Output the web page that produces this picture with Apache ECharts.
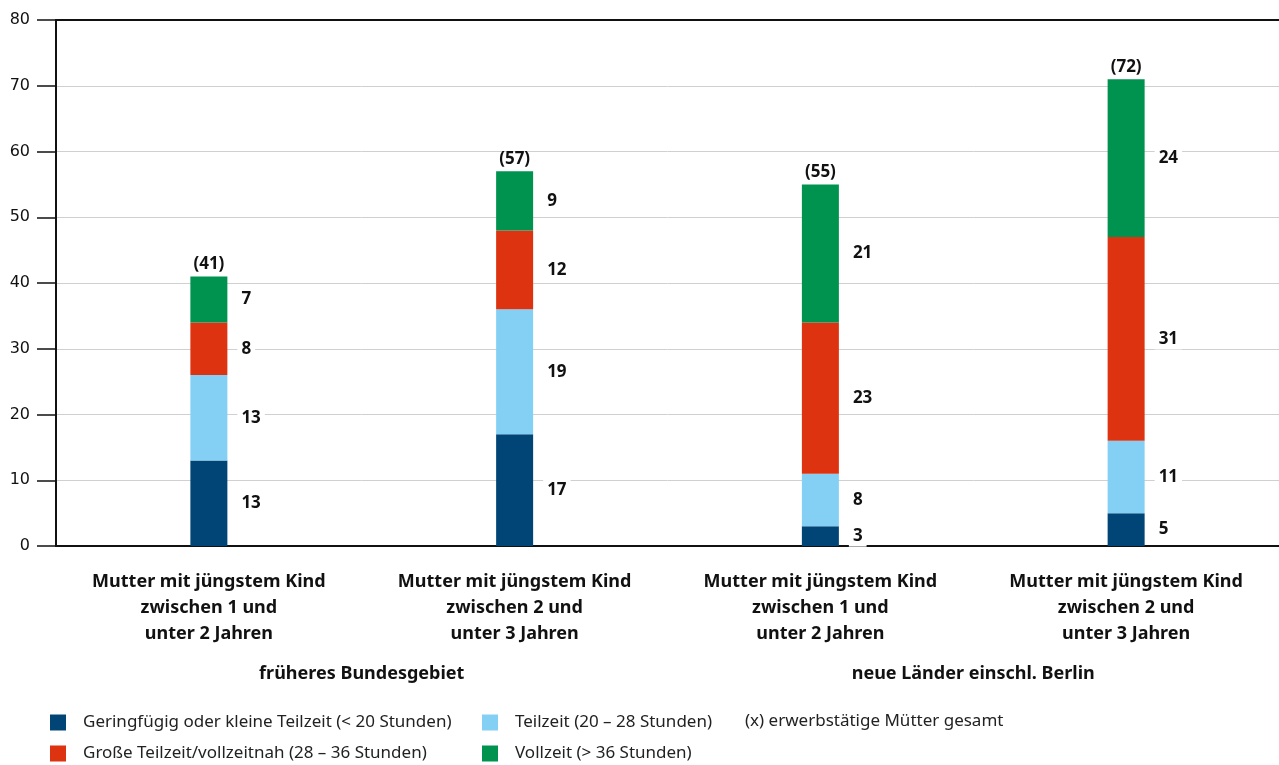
<!DOCTYPE html>
<html>
<head>
<meta charset="utf-8">
<script src="https://cdn.jsdelivr.net/npm/echarts@6/dist/echarts.min.js"></script>
<style>
  html, body { margin: 0; padding: 0; background: #fff; }
  #chart { width: 1279px; height: 765px; }
</style>
</head>
<body>
<div id="chart"></div>
<script>
// Kategorien und Gruppen
const categories = [
  'Mutter mit jüngstem Kind\nzwischen 1 und\nunter 2 Jahren',
  'Mutter mit jüngstem Kind\nzwischen 2 und\nunter 3 Jahren',
  'Mutter mit jüngstem Kind\nzwischen 1 und\nunter 2 Jahren',
  'Mutter mit jüngstem Kind\nzwischen 2 und\nunter 3 Jahren'
];
const groups = ['früheres Bundesgebiet', 'neue Länder einschl. Berlin'];

// Werte in Prozent
const geringfuegig = [13, 17, 3, 5];
const teilzeit = [13, 19, 8, 11];
const grosseTeilzeit = [8, 12, 23, 31];
const vollzeit = [7, 9, 21, 24];
const gesamtLabels = ['(41)', '(57)', '(55)', '(72)'];

const yTicks = [0, 10, 20, 30, 40, 50, 60, 70, 80];

const names = [
  'Geringfügig oder kleine Teilzeit (< 20 Stunden)',
  'Teilzeit (20 – 28 Stunden)',
  'Große Teilzeit/vollzeitnah (28 – 36 Stunden)',
  'Vollzeit (> 36 Stunden)'
];
const colors = ['#004576', '#84cff4', '#dd3311', '#00924f'];
const values = [geringfuegig, teilzeit, grosseTeilzeit, vollzeit];

const font = 'Noto Sans';

let mycharts = echarts.init(document.getElementById('chart'));

// Balken-Serien
let series = values.map((arr, i) => ({
  name: names[i],
  type: 'bar',
  stack: 'total',
  barWidth: 37,
  xAxisIndex: 0,
  data: arr,
  itemStyle: { color: colors[i] },
  label: {
    show: true,
    position: 'right',
    distance: 10,
    color: '#111',
    fontFamily: font,
    fontWeight: 'bold',
    fontSize: 17,
    backgroundColor: '#fff',
    padding: [2, 4]
  }
}));

// Gesamtsumme über den Balken
let totals = geringfuegig.map((v, i) => v + teilzeit[i] + grosseTeilzeit[i] + vollzeit[i]);
series.push({
  type: 'scatter',
  xAxisIndex: 0,
  symbolSize: 0,
  data: totals,
  silent: true,
  itemStyle: { opacity: 1 },
  label: {
    show: true,
    position: 'top',
    distance: 4,
    formatter: p => gesamtLabels[p.dataIndex],
    color: '#111',
    fontFamily: font,
    fontWeight: 'bold',
    fontSize: 17
  }
});

// Legende: jedes Element einzeln platziert (2 Spalten)
const legendPos = [[50, 714], [482, 714], [50, 745], [482, 745]];
let legends = names.map((n, i) => ({
  data: [n],
  left: legendPos[i][0],
  top: legendPos[i][1],
  padding: 0,
  itemWidth: 16,
  itemHeight: 16,
  icon: 'rect',
  textStyle: { fontFamily: font, fontSize: 17, color: '#222', padding: [0, 0, 0, 12] }
}));

mycharts.setOption({
  animation: false,
  grid: { left: 56, right: 0, top: 20, bottom: 219 },
  legend: legends,
  graphic: [{
    type: 'text',
    left: 745,
    top: 713,
    style: {
      text: '(x) erwerbstätige Mütter gesamt',
      fontFamily: font,
      fontSize: 17,
      fill: '#222'
    }
  }],
  xAxis: [
    {
      type: 'category',
      data: categories,
      position: 'bottom',
      axisLine: { lineStyle: { color: '#111', width: 2 } },
      axisTick: { show: false },
      axisLabel: {
        interval: 0,
        margin: 23,
        fontFamily: font,
        fontWeight: 'bold',
        fontSize: 18,
        lineHeight: 26,
        color: '#111'
      }
    },
    {
      type: 'category',
      data: groups,
      position: 'bottom',
      offset: 119,
      axisLine: { show: false },
      axisTick: { show: false },
      axisLabel: {
        interval: 0,
        margin: 0,
        fontFamily: font,
        fontWeight: 'bold',
        fontSize: 18,
        color: '#111'
      }
    },
    {
      type: 'category',
      data: categories,
      position: 'top',
      axisLine: { lineStyle: { color: '#111', width: 2 } },
      axisTick: { show: false },
      axisLabel: { show: false }
    }
  ],
  yAxis: {
    type: 'value',
    min: yTicks[0],
    max: yTicks[yTicks.length - 1],
    interval: 10,
    axisLine: { show: true, lineStyle: { color: '#111', width: 2 } },
    axisTick: { show: true, length: 19, lineStyle: { color: '#111', width: 1.5 } },
    axisLabel: {
      margin: 26,
      fontFamily: 'DejaVu Sans',
      fontSize: 16,
      color: '#111'
    },
    splitLine: { lineStyle: { color: '#d0d0d0', width: 1 } }
  },
  series: series
});
</script>
</body>
</html>
